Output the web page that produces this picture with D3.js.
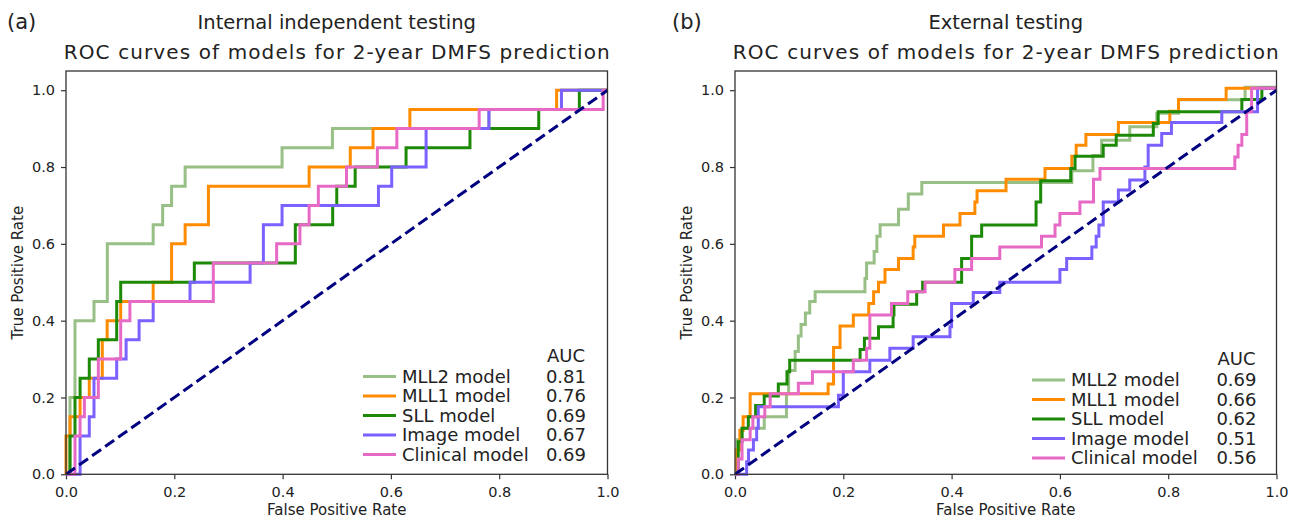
<!DOCTYPE html>
<html>
<head>
<meta charset="utf-8">
<script src="https://cdn.jsdelivr.net/npm/d3@7"></script>
<style>
body { margin:0; background:#fff; }
text { font-family:"DejaVu Sans", sans-serif; fill:#222; }
</style>
</head>
<body>
<svg id="chart"></svg>
<script>
// model names, colours and AUCs
var models = ["MLL2 model","MLL1 model","SLL model","Image model","Clinical model"];
var colors = ["#98bf86","#ff8c00","#1c8a06","#7b61ff","#e769c6"];
var aucInternal = ["0.81","0.76","0.69","0.67","0.69"];
var aucExternal = ["0.69","0.66","0.62","0.51","0.56"];
var ticks = [0,0.2,0.4,0.6,0.8,1.0];

// ROC points: [fpr where the curve steps up, tpr after the step]
// (a) internal independent testing
var intMLL2 = [[0,0],[0.0074,0.2],[0.0166,0.4],[0.0517,0.45],[0.0763,0.6],[0.161,0.65],[0.1785,0.7],[0.195,0.75],[0.220,0.8],[0.399,0.85],[0.492,0.9],[0.781,0.95],[0.915,1.0],[1,1]];
var intMLL1 = [[0,0],[0,0.1],[0.0074,0.15],[0.026,0.2],[0.043,0.25],[0.067,0.35],[0.076,0.4],[0.101,0.45],[0.161,0.5],[0.195,0.6],[0.220,0.65],[0.263,0.75],[0.449,0.8],[0.525,0.85],[0.567,0.9],[0.635,0.95],[0.906,1.0],[1,1]];
var intSLL = [[0,0],[0.0074,0.1],[0.0166,0.2],[0.026,0.25],[0.043,0.3],[0.0597,0.35],[0.0936,0.45],[0.101,0.5],[0.237,0.55],[0.4235,0.65],[0.4925,0.7],[0.5,0.75],[0.534,0.8],[0.628,0.85],[0.746,0.9],[0.873,0.95],[0.948,1.0],[1,1]];
var intImage = [[0,0],[0.026,0.1],[0.043,0.15],[0.0517,0.25],[0.0936,0.3],[0.111,0.35],[0.135,0.4],[0.161,0.45],[0.229,0.5],[0.340,0.55],[0.3645,0.65],[0.399,0.7],[0.577,0.75],[0.6015,0.8],[0.665,0.9],[0.781,0.95],[0.915,1.0],[1,1]];
var intClinical = [[0,0],[0.0166,0.1],[0.026,0.15],[0.034,0.2],[0.0597,0.3],[0.101,0.4],[0.118,0.45],[0.272,0.55],[0.389,0.6],[0.432,0.65],[0.449,0.7],[0.466,0.75],[0.518,0.8],[0.575,0.85],[0.611,0.9],[0.763,0.95],[0.992,1.0],[1,1]];

// (b) external testing
var extMLL2 = [[0,0],[0.004,0.09],[0.013,0.12],[0.054,0.15],[0.095,0.21],[0.099,0.27],[0.111,0.32],[0.117,0.36],[0.122,0.39],[0.13,0.42],[0.138,0.45],[0.148,0.475],[0.240,0.51],[0.243,0.55],[0.257,0.58],[0.262,0.62],[0.268,0.65],[0.302,0.69],[0.320,0.73],[0.345,0.76],[0.622,0.79],[0.661,0.83],[0.677,0.87],[0.729,0.905],[0.779,0.94],[0.819,0.975],[0.942,1.008],[1,1.008]];
var extMLL1 = [[0,0],[0.003,0.063],[0.009,0.115],[0.015,0.15],[0.028,0.21],[0.172,0.235],[0.182,0.33],[0.194,0.386],[0.2185,0.415],[0.247,0.445],[0.256,0.475],[0.265,0.5],[0.277,0.533],[0.302,0.562],[0.329,0.592],[0.332,0.62],[0.385,0.649],[0.4155,0.679],[0.443,0.709],[0.447,0.738],[0.5005,0.768],[0.5725,0.796],[0.622,0.828],[0.630,0.857],[0.648,0.885],[0.708,0.916],[0.803,0.945],[0.819,0.976],[0.907,1.005],[1,1.005]];
var extSLL = [[0,0],[0.006,0.085],[0.013,0.12],[0.0246,0.15],[0.038,0.179],[0.054,0.204],[0.080,0.235],[0.096,0.267],[0.101,0.297],[0.231,0.325],[0.239,0.354],[0.265,0.384],[0.292,0.415],[0.2935,0.443],[0.3355,0.475],[0.3465,0.5],[0.4185,0.562],[0.437,0.62],[0.4555,0.649],[0.556,0.709],[0.5645,0.764],[0.62,0.796],[0.628,0.828],[0.68,0.857],[0.704,0.883],[0.7725,0.913],[0.7815,0.944],[0.936,0.976],[0.973,1.005],[1,1.005]];
var extImage = [[0,0],[0.0215,0.033],[0.025,0.063],[0.034,0.09],[0.04,0.12],[0.043,0.176],[0.191,0.206],[0.2,0.267],[0.249,0.297],[0.286,0.328],[0.329,0.358],[0.397,0.384],[0.40,0.445],[0.44,0.473],[0.489,0.5],[0.60,0.533],[0.6125,0.562],[0.659,0.592],[0.667,0.62],[0.672,0.649],[0.68,0.709],[0.708,0.74],[0.729,0.766],[0.757,0.80],[0.763,0.857],[0.788,0.887],[0.806,0.916],[0.899,0.944],[0.965,1.005],[1,1.005]];
var extClinical = [[0,0],[0.006,0.04],[0.013,0.09],[0.028,0.12],[0.033,0.15],[0.055,0.176],[0.065,0.21],[0.117,0.237],[0.143,0.267],[0.2185,0.297],[0.243,0.328],[0.249,0.415],[0.289,0.445],[0.319,0.475],[0.351,0.5],[0.406,0.533],[0.437,0.562],[0.489,0.592],[0.566,0.62],[0.591,0.649],[0.60,0.679],[0.637,0.709],[0.662,0.768],[0.674,0.796],[0.923,0.826],[0.929,0.857],[0.936,0.885],[0.945,0.944],[0.954,1.005],[1,1.005]];

var screen = {width:1289, height:519};

var svg = d3.select("#chart")
    .attr("width",screen.width)
    .attr("height",screen.height)

var drawPanel = function(p)
{
    var xScale = d3.scaleLinear().domain([0,1]).range([p.left,p.right]);
    var yScale = d3.scaleLinear().domain([0,1.05]).range([p.bottom,p.top]);

    var g = svg.append("g").classed("panel",true);

    //titles
    g.append("text")
        .text(p.letter)
        .attr("x",p.letterX)
        .attr("y",29)
        .style("font-size","21px")
    g.append("text")
        .text(p.title)
        .attr("text-anchor","middle")
        .attr("x",(p.left+p.right)/2)
        .attr("y",29)
        .style("font-size","19.5px")
    g.append("text")
        .text("ROC curves of models for 2-year DMFS prediction")
        .attr("text-anchor","middle")
        .attr("x",(p.left+p.right)/2)
        .attr("y",59)
        .attr("textLength",546)
        .attr("lengthAdjust","spacing")
        .style("font-size","20px")

    //axes
    var xAxis = d3.axisBottom(xScale).tickValues(ticks)
        .tickFormat(d3.format(".1f")).tickSize(5).tickPadding(7);
    var yAxis = d3.axisLeft(yScale).tickValues(ticks)
        .tickFormat(d3.format(".1f")).tickSize(5).tickPadding(6);

    g.append("g")
        .attr("transform","translate(0,"+p.bottom+")")
        .call(xAxis)
    g.append("g")
        .attr("transform","translate("+p.left+",0)")
        .call(yAxis)
    g.selectAll(".domain").remove();
    g.selectAll(".tick line").attr("stroke","#333").attr("stroke-width",1.2);
    g.selectAll(".tick text")
        .style("font-size","14.5px")
        .style("font-family","DejaVu Sans")
        .attr("fill","#222");

    g.append("text")
        .text("False Positive Rate")
        .attr("text-anchor","middle")
        .attr("x",(p.left+p.right)/2)
        .attr("y",515)
        .style("font-size","15px")
    g.append("g")
        .attr("transform","translate("+(p.left-43)+","+((p.top+p.bottom)/2)+")")
        .append("text")
        .text("True Positive Rate")
        .attr("text-anchor","middle")
        .attr("transform","rotate(-90)")
        .style("font-size","15px")

    //curves
    var lineGenerator = d3.line()
        .x(function(d){ return xScale(d[0]); })
        .y(function(d){ return yScale(d[1]); })
        .curve(d3.curveStepAfter);

    g.selectAll("path.roc")
        .data(p.curves)
        .enter()
        .append("path")
        .classed("roc",true)
        .attr("d",lineGenerator)
        .attr("fill","none")
        .attr("stroke",function(d,i){ return colors[i]; })
        .attr("stroke-width",3)
        .attr("stroke-linejoin","miter");

    //chance line
    g.append("path")
        .datum([[0,0],[1,1]])
        .attr("d",d3.line().x(function(d){return xScale(d[0]);}).y(function(d){return yScale(d[1]);}))
        .attr("stroke","#000080")
        .attr("stroke-width",3)
        .attr("stroke-dasharray","11,5")
        .attr("fill","none");

    //frame
    g.append("rect")
        .attr("x",p.left)
        .attr("y",p.top)
        .attr("width",p.right-p.left)
        .attr("height",p.bottom-p.top)
        .attr("fill","none")
        .attr("stroke","#333")
        .attr("stroke-width",1.3);

    //legend
    var leg = g.append("g").classed("legend",true);
    leg.append("text")
        .text("AUC")
        .attr("text-anchor","middle")
        .attr("x",p.left+p.aucX-20)
        .attr("y",p.legendTop-21)
        .attr("dy","0.35em")
        .style("font-size","18px")
    var rows = leg.selectAll("g.row")
        .data(models)
        .enter()
        .append("g")
        .classed("row",true)
        .attr("transform",function(d,i){ return "translate("+p.left+","+(p.legendTop+i*19.5)+")"; })
    rows.append("line")
        .attr("x1",297).attr("x2",330)
        .attr("stroke",function(d,i){ return colors[i]; })
        .attr("stroke-width",3)
    rows.append("text")
        .text(function(d){ return d; })
        .attr("x",336)
        .attr("dy","0.35em")
        .style("font-size","18px")
    rows.append("text")
        .text(function(d,i){ return p.auc[i]; })
        .attr("x",p.aucX)
        .attr("text-anchor","end")
        .attr("dy","0.35em")
        .style("font-size","18px")
}

drawPanel({letter:"(a)", letterX:7, title:"Internal independent testing",
    left:66, right:607.5, top:71, bottom:474.3, legendTop:376.5, aucX:520,
    curves:[intMLL2,intMLL1,intSLL,intImage,intClinical], auc:aucInternal});
drawPanel({letter:"(b)", letterX:672, title:"External testing",
    left:735, right:1276.5, top:71, bottom:474.3, legendTop:380, aucX:521.5,
    curves:[extMLL2,extMLL1,extSLL,extImage,extClinical], auc:aucExternal});
</script>
</body>
</html>
